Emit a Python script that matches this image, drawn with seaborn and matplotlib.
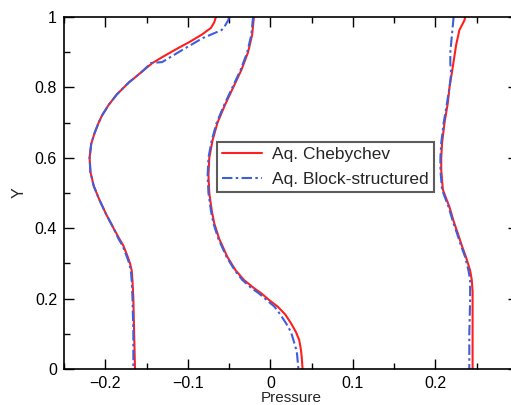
import numpy as np
import pandas as pd
import matplotlib
matplotlib.use("Agg")
import matplotlib.pyplot as plt
import seaborn as sns

# ---- data ----
methods = ["Aq. Chebychev", "Aq. Block-structured"]

# curve 1 (left)
y_cheb_1 = [1.0, 0.985, 0.969, 0.95, 0.929, 0.91, 0.886, 0.869, 0.85, 0.83, 0.815, 0.78, 0.75, 0.72, 0.7,
            0.67, 0.64, 0.6, 0.56, 0.52, 0.48, 0.44, 0.4, 0.37, 0.35, 0.32, 0.3, 0.28, 0.25, 0.2, 0.1, 0.0]
p_cheb_1 = [-0.066, -0.068, -0.072, -0.083, -0.098, -0.113, -0.131, -0.143, -0.153, -0.163, -0.171, -0.186,
            -0.196, -0.204, -0.208, -0.213, -0.217, -0.219, -0.218, -0.214, -0.207, -0.199, -0.190, -0.183,
            -0.178, -0.173, -0.170, -0.168, -0.167, -0.166, -0.165, -0.164]
y_block_1 = [1.0, 0.991, 0.975, 0.963, 0.94, 0.906, 0.872, 0.869, 0.85, 0.83, 0.815, 0.78, 0.75, 0.72, 0.7,
             0.67, 0.64, 0.6, 0.56, 0.52, 0.48, 0.44, 0.4, 0.37, 0.35, 0.32, 0.3, 0.28, 0.25, 0.2, 0.1, 0.0]
p_block_1 = [-0.050, -0.051, -0.055, -0.059, -0.082, -0.107, -0.131, -0.145, -0.153, -0.163, -0.171, -0.186,
             -0.196, -0.204, -0.208, -0.213, -0.217, -0.219, -0.218, -0.214, -0.207, -0.199, -0.190, -0.184,
             -0.179, -0.174, -0.171, -0.169, -0.168, -0.167, -0.166, -0.166]

# curve 2 (middle)
y_cheb_2 = [1.0, 0.95, 0.9, 0.85, 0.8, 0.75, 0.7, 0.65, 0.6, 0.55, 0.5, 0.45, 0.414, 0.37, 0.318, 0.28,
            0.253, 0.23, 0.215, 0.195, 0.177, 0.155, 0.13, 0.105, 0.082, 0.055, 0.034, 0.0]
p_cheb_2 = [-0.020, -0.022, -0.027, -0.035, -0.045, -0.055, -0.064, -0.070, -0.074, -0.075, -0.074, -0.071,
            -0.068, -0.062, -0.052, -0.042, -0.032, -0.020, -0.011, -0.001, 0.009, 0.018, 0.025, 0.031,
            0.035, 0.037, 0.038, 0.039]
y_block_2 = [1.0, 0.95, 0.9, 0.85, 0.8, 0.75, 0.7, 0.65, 0.6, 0.55, 0.5, 0.45, 0.414, 0.37, 0.318, 0.28,
             0.253, 0.23, 0.215, 0.195, 0.177, 0.155, 0.13, 0.105, 0.074, 0.05, 0.0]
p_block_2 = [-0.021, -0.023, -0.028, -0.036, -0.046, -0.056, -0.065, -0.071, -0.075, -0.076, -0.075, -0.072,
             -0.069, -0.063, -0.053, -0.043, -0.034, -0.023, -0.014, -0.004, 0.005, 0.012, 0.019, 0.025,
             0.029, 0.032, 0.034]

# curve 3 (right)
y_cheb_3 = [1.0, 0.99, 0.963, 0.92, 0.858, 0.8, 0.756, 0.7, 0.642, 0.6, 0.565, 0.509, 0.46, 0.42, 0.386,
            0.35, 0.318, 0.28, 0.253, 0.22, 0.196, 0.1, 0.0]
p_cheb_3 = [0.236, 0.235, 0.229, 0.225, 0.221, 0.217, 0.215, 0.211, 0.208, 0.207, 0.207, 0.209, 0.217, 0.222,
            0.227, 0.232, 0.237, 0.242, 0.244, 0.245, 0.245, 0.245, 0.245]
y_block_3 = [1.0, 0.95, 0.9, 0.869, 0.84, 0.8, 0.756, 0.7, 0.642, 0.6, 0.565, 0.509, 0.46, 0.42, 0.386,
             0.35, 0.318, 0.28, 0.253, 0.22, 0.196, 0.1, 0.0]
p_block_3 = [0.222, 0.220, 0.218, 0.218, 0.219, 0.217, 0.214, 0.210, 0.207, 0.206, 0.206, 0.208, 0.216, 0.221,
             0.226, 0.231, 0.236, 0.240, 0.242, 0.242, 0.242, 0.241, 0.241]

x_ticks = [-0.2, -0.1, 0.0, 0.1, 0.2]
x_tick_labels = ["\u22120.2", "\u22120.1", "0", "0.1", "0.2"]
y_ticks = [0, 0.2, 0.4, 0.6, 0.8, 1.0]
y_tick_labels = ["0", "0.2", "0.4", "0.6", "0.8", "1"]

# ---- build long-form table ----
rows = []
series = [
    (methods[0], 1, y_cheb_1, p_cheb_1), (methods[0], 2, y_cheb_2, p_cheb_2), (methods[0], 3, y_cheb_3, p_cheb_3),
    (methods[1], 1, y_block_1, p_block_1), (methods[1], 2, y_block_2, p_block_2), (methods[1], 3, y_block_3, p_block_3),
]
for m, c, ys, ps in series:
    for yv, pv in zip(ys, ps):
        rows.append({"method": m, "curve": c, "Y": yv, "Pressure": pv})
df = pd.DataFrame(rows)

sns.set_style("ticks")
plt.rcParams["font.family"] = ["Liberation Sans", "DejaVu Sans"]

fig = plt.figure(figsize=(5.11, 4.05), dpi=100)
ax = fig.add_axes([64 / 511, 36 / 405, 454 / 511, 352 / 405])

palette = {methods[0]: "#ff1f1f", methods[1]: "#3d5fdc"}
dashes = {methods[0]: "", methods[1]: (5, 1.6, 1.2, 1.6)}
sns.lineplot(data=df, x="Pressure", y="Y", hue="method", style="method", units="curve",
             estimator=None, sort=False, orient="y", hue_order=methods, style_order=methods,
             palette=palette, dashes=dashes, linewidth=1.5, ax=ax)

ax.set_xlim(-0.25, 0.3)
ax.set_ylim(0, 1)
ax.set_xticks(x_ticks)
ax.set_xticklabels(x_tick_labels)
ax.set_yticks(y_ticks)
ax.set_yticklabels(y_tick_labels)
ax.set_xticks(np.arange(-0.25, 0.3001, 0.05), minor=True)
ax.set_yticks(np.arange(0, 1.0001, 0.1), minor=True)
ax.tick_params(which="both", direction="in", top=True, right=True, labelsize=11.5, colors="black")
ax.tick_params(which="major", length=7, width=1.0, pad=5)
ax.tick_params(which="minor", length=4, width=1.0)
for s in ax.spines.values():
    s.set_linewidth(1.2)
    s.set_color("black")
ax.set_xlabel("Pressure", fontsize=11, labelpad=0)
ax.set_ylabel("Y", fontsize=11.5, labelpad=6)

handles, labels = ax.get_legend_handles_labels()
hl = [(h, l) for h, l in zip(handles, labels) if l in methods]
leg = ax.legend([h for h, _ in hl], [l for _, l in hl], loc="upper left",
                bbox_to_anchor=(0.337, 0.645), fontsize=12.5, frameon=True, fancybox=False,
                handlelength=2.3, handletextpad=0.57, labelspacing=0.55, borderpad=0.3,
                borderaxespad=0)
leg.get_frame().set_edgecolor("#333333")
leg.get_frame().set_linewidth(1.5)

fig.savefig("out.png", dpi=100)
